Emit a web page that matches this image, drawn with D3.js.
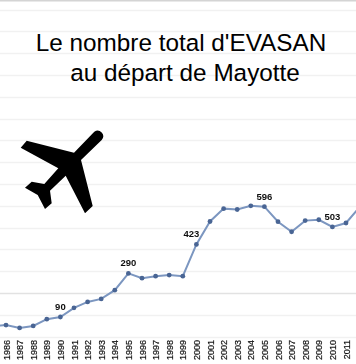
<!DOCTYPE html>
<html><head><meta charset="utf-8">
<script src="https://cdn.jsdelivr.net/npm/d3@7/dist/d3.min.js"></script>
<style>html,body{margin:0;padding:0;background:#fff;overflow:hidden}svg{display:block}</style>
</head><body><svg id="c" width="356" height="364"></svg>
<script>
const years=[1985,1986,1987,1988,1989,1990,1991,1992,1993,1994,1995,1996,1997,1998,1999,2000,2001,2002,2003,2004,2005,2006,2007,2008,2009,2010,2011,2012];
const values=[48,53,40,49,80,90,132,159,173,213,290,268,277,282,277,423,528,587,583,600,596,527,481,532,536,503,521,594];
const labelled=[1990,1995,2000,2005,2010];
const gridValues=d3.range(0,1600,100);
const titleLines=["Le nombre total d'EVASAN","au départ de Mayotte"];
const planeIcon="M94.3 131.7L74 152.7L26.7 140.7L20.7 147.7L58.3 168.3L44.3 184L31.7 181.7L25 187.7L37.7 195L45 209L51.7 203.3L50 190.7L65.7 175.7L85 213.3L92.7 206L81 160L101.7 140A5.6 5.6 0 0 0 94.3 131.7Z";

const svg=d3.select("#c");
const defs=svg.append("defs");
defs.append("filter").attr("id","soft").append("feGaussianBlur").attr("stdDeviation",0.35);

const x=d3.scaleLinear().domain([1986,2011]).range([6,346]);
const y=d3.scaleLinear().domain([0,1500]).range([336.6,9.6]);

svg.append("rect").attr("x",0).attr("y",0).attr("width",356).attr("height",1.5).attr("fill","#d4d4d4");
svg.append("g").selectAll("line").data(gridValues).join("line")
 .attr("x1",0).attr("x2",356).attr("y1",d=>Math.round(y(d))+.5).attr("y2",d=>Math.round(y(d))+.5)
 .attr("stroke",d=>d===200?"#e2e2e2":"#f1f1f1").attr("stroke-width",d=>d===200?1.6:1.3);

const axis=d3.axisBottom(x).tickValues(years.slice(1)).tickFormat(d3.format("d")).tickSize(0);
const ax=svg.append("g").attr("transform","translate(0,337)").attr("filter","url(#soft)").call(axis);
ax.select(".domain").remove();
ax.selectAll("text").attr("transform","rotate(-90)").attr("text-anchor","end")
 .attr("x",-3).attr("y",0).attr("dy","0.35em")
 .style("font","9px 'Liberation Sans'").attr("fill","#111")
 .attr("stroke","#111").attr("stroke-width",0.2);

const line=d3.line().x((d,i)=>x(years[i])).y(d=>y(d));
const marks=svg.append("g").attr("filter","url(#soft)");
marks.append("path").attr("d",line(values)).attr("fill","none").attr("stroke","#7b96c0").attr("stroke-width",2);
marks.append("g").selectAll("circle").data(values).join("circle")
 .attr("cx",(d,i)=>x(years[i])).attr("cy",d=>y(d)).attr("r",2.4).attr("fill","#4a6594");

marks.append("g").selectAll("text").data(labelled).join("text")
 .attr("x",d=>x(d)+(d===2000?-5:0)).attr("y",d=>y(values[years.indexOf(d)])-7)
 .attr("text-anchor","middle").style("font","bold 9.5px 'Liberation Sans'").attr("fill","#111")
 .text(d=>values[years.indexOf(d)]);

svg.append("g").selectAll("text").data(titleLines).join("text")
 .attr("x",(d,i)=>i?185:181).attr("y",(d,i)=>51+i*30).attr("text-anchor","middle")
 .style("font","24.3px 'Liberation Sans'").attr("fill","#000").text(d=>d);

svg.append("path").attr("d",planeIcon).attr("fill","#000");
</script></body></html>
